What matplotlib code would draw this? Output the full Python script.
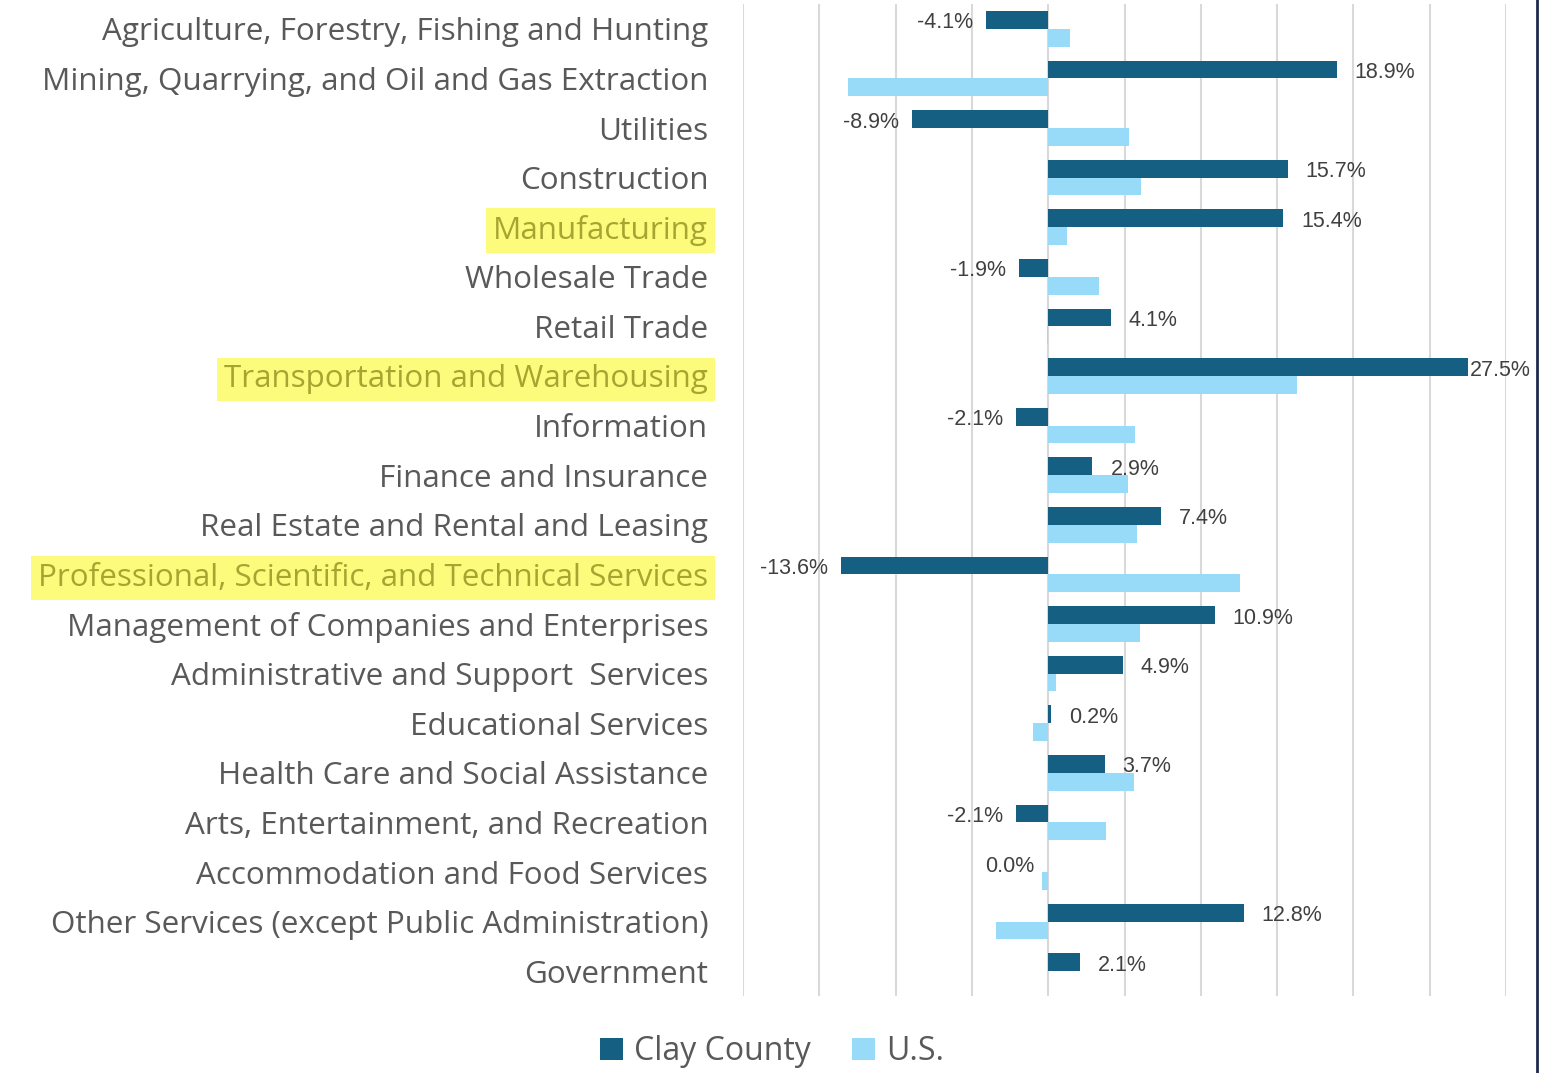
from matplotlib import pyplot as plt
from matplotlib.lines import Line2D
import numpy as np


categories = ["Agriculture, Forestry, Fishing and Hunting",
              "Mining, Quarrying, and Oil and Gas Extraction",
              "Utilities",
              "Construction",
              "Manufacturing",
              "Wholesale Trade",
              "Retail Trade",
              "Transportation and Warehousing",
              "Information",
              "Finance and Insurance",
              "Real Estate and Rental and Leasing",
              "Professional, Scientific, and Technical Services",
              "Management of Companies and Enterprises",
              "Administrative and Support  Services",
              "Educational Services",
              "Health Care and Social Assistance",
              "Arts, Entertainment, and Recreation",
              "Accommodation and Food Services",
              "Other Services (except Public Administration)",
              "Government"]

clay = [-4.1, 18.9, -8.9, 15.7, 15.4, -1.9, 4.1, 27.5, -2.1, 2.9,
        7.4, -13.6, 10.9, 4.9, 0.2, 3.7, -2.1, -0.04, 12.8, 2.1]
us = [1.4, -13.1, 5.3, 6.1, 1.2, 3.3, -0.1, 16.3, 5.7, 5.2,
      5.8, 12.6, 6.0, 0.5, -1.0, 5.6, 3.8, -0.4, -3.4, 0.0]

highlighted = ["Manufacturing", "Transportation and Warehousing",
               "Professional, Scientific, and Technical Services"]

clay_color = "#156082"
us_color = "#97DBF8"
text_color = "#595959"

fig = plt.figure(figsize=(15.55, 10.73), dpi=100)
ax = fig.add_axes([743 / 1555, 1 - 996 / 1073, (1506 - 743) / 1555, (996 - 4) / 1073])

y = np.arange(len(categories))
h = 0.36
ax.barh(y - h / 2, clay, height=h, color=clay_color, label="Clay County", zorder=3)
ax.barh(y + h / 2, us, height=h, color=us_color, label="U.S.", zorder=3)

ax.set_xlim(-20, 30)
ax.set_ylim(len(categories) - 0.5, -0.5)
ax.set_xticks(np.arange(-20, 31, 5))
ax.set_xticklabels([])
ax.grid(axis="x", color="#D9D9D9", linewidth=1.5, zorder=0)
ax.tick_params(axis="both", length=0)
for s in ax.spines.values():
    s.set_visible(False)

ax.set_yticks(y)
ax.set_yticklabels(categories, fontsize=22.6, family="Open Sans", color=text_color)
ax.tick_params(axis="y", pad=25)
for lbl in ax.get_yticklabels():
    if lbl.get_text() in highlighted:
        lbl.set_color("#A5A532")
        lbl.set_bbox(dict(facecolor="#FDFB7C", edgecolor="none", pad=5))

# data labels for Clay County
for i, v in enumerate(clay):
    txt = f"{round(v, 1) + 0.0:.1f}%"
    if v >= 0:
        off = 2 if v > 25 else 18
        ax.annotate(txt, (v, i - h / 2), xytext=(off, -3), textcoords="offset pixels",
                    ha="left", va="center", fontsize=15.5, family="Liberation Sans",
                    color="#404040", zorder=4)
    else:
        ax.annotate(txt, (v, i - h / 2), xytext=(-13, -3), textcoords="offset pixels",
                    ha="right", va="center", fontsize=15.5, family="Liberation Sans",
                    color="#404040", zorder=4)

fig.legend(loc="center", bbox_to_anchor=(772 / 1555, 0.02), ncol=2, frameon=False,
           prop={"family": "Open Sans", "size": 23}, labelcolor=text_color,
           handlelength=0.7, handleheight=0.7, handletextpad=0.35, columnspacing=1.3,
           borderpad=0.1)

fig.add_artist(Line2D([1536.5 / 1555] * 2, [0, 1], transform=fig.transFigure,
                      color="#1F2A4F", linewidth=2))

fig.savefig("out.png", dpi=100)
